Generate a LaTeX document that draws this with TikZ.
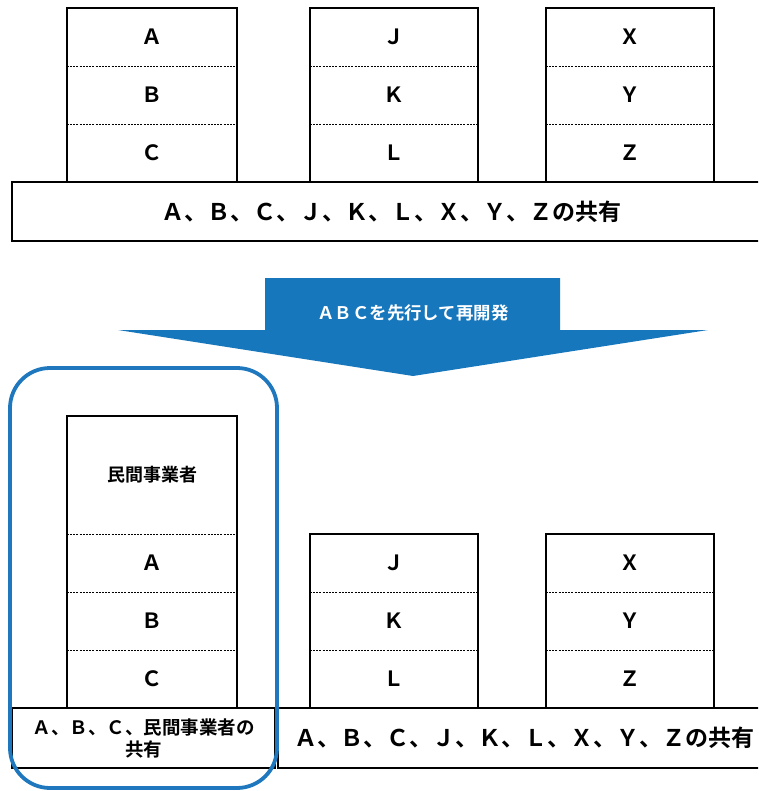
\documentclass[tikz,border=0pt]{standalone}
\usepackage{fontspec}
\setmainfont{Noto Sans CJK JP}[BoldFont={Noto Sans CJK JP Bold}]
\definecolor{arrowblue}{RGB}{23,119,188}
\definecolor{grpblue}{RGB}{31,120,190}
\begin{document}
\begin{tikzpicture}[x=1pt,y=-1pt,
  cellw/.style={minimum width=170pt,minimum height=58pt,inner sep=0pt,font=\bfseries\fontsize{21}{21}\selectfont},
  celln/.style={minimum width=168pt,minimum height=58pt,inner sep=0pt,font=\bfseries\fontsize{21}{21}\selectfont},
  towerline/.style={draw=black,line width=1.8pt},
  divline/.style={draw=black,line width=0.8pt,dash pattern=on 2pt off 1.2pt},
  basebox/.style={draw=black,line width=1.8pt,inner sep=0pt,align=center}]
\useasboundingbox (0,0) rectangle (758,791);
\clip (0,0) rectangle (758,791);
% ---------- top ----------
\node[cellw] (tA) at (152,37) {Ａ};
\node[cellw] (tB) at (152,95) {Ｂ};
\node[cellw] (tC) at (152,153) {Ｃ};
\node[celln] (tJ) at (394,37) {Ｊ};
\node[celln] (tK) at (394,95) {Ｋ};
\node[celln] (tL) at (394,153) {Ｌ};
\node[celln] (tX) at (630,37) {Ｘ};
\node[celln] (tY) at (630,95) {Ｙ};
\node[celln] (tZ) at (630,153) {Ｚ};
\foreach \a/\b/\c in {tA/tB/tC,tJ/tK/tL,tX/tY/tZ}{
  \draw[towerline] (\a.north west) rectangle (\c.south east);
  \draw[divline] (\a.south west) -- (\a.south east);
  \draw[divline] (\b.south west) -- (\b.south east);
}
\node[basebox,minimum width=758pt,minimum height=59pt,font=\bfseries\fontsize{23}{23}\selectfont] (tbase) at (391,211.5) {Ａ、Ｂ、Ｃ、Ｊ、Ｋ、Ｌ、Ｘ、Ｙ、Ｚの共有};
% ---------- arrow ----------
\fill[arrowblue] (265,278) -- (560,278) -- (560,330) -- (708,330) -- (413,376) -- (118,330) -- (265,330) -- cycle;
\node[text=white,font=\bfseries\fontsize{17.4}{17.4}\selectfont,inner sep=0pt] (arrtxt) at (413,313) {ＡＢＣを先行して再開発};
% ---------- bottom ----------
\node[cellw,minimum height=118pt,font=\bfseries\fontsize{18}{18}\selectfont] (bM) at (152,475) {民間事業者};
\node[cellw] (bA) at (152,563) {Ａ};
\node[cellw] (bB) at (152,621) {Ｂ};
\node[cellw] (bC) at (152,679) {Ｃ};
\node[celln] (bJ) at (394,563) {Ｊ};
\node[celln] (bK) at (394,621) {Ｋ};
\node[celln] (bL) at (394,679) {Ｌ};
\node[celln] (bX) at (630,563) {Ｘ};
\node[celln] (bY) at (630,621) {Ｙ};
\node[celln] (bZ) at (630,679) {Ｚ};
\draw[towerline] (bM.north west) rectangle (bC.south east);
\foreach \n in {bM,bA,bB}{\draw[divline] (\n.south west) -- (\n.south east);}
\foreach \a/\b/\c in {bJ/bK/bL,bX/bY/bZ}{
  \draw[towerline] (\a.north west) rectangle (\c.south east);
  \draw[divline] (\a.south west) -- (\a.south east);
  \draw[divline] (\b.south west) -- (\b.south east);
}
\node[basebox,minimum width=263pt,minimum height=60pt,font=\bfseries\fontsize{18.5}{22}\selectfont] (lbase) at (143.5,738) {Ａ、Ｂ、Ｃ、民間事業者の\\共有};
\node[basebox,minimum width=492pt,minimum height=60pt,font=\bfseries\fontsize{23}{23}\selectfont] (rbase) at (524,738) {Ａ、Ｂ、Ｃ、Ｊ、Ｋ、Ｌ、Ｘ、Ｙ、Ｚの共有};
\node[draw=grpblue,line width=3.8pt,rounded corners=40pt,minimum width=267pt,minimum height=420pt,inner sep=0pt] (grp) at (143.5,578) {};
\end{tikzpicture}
\end{document}
